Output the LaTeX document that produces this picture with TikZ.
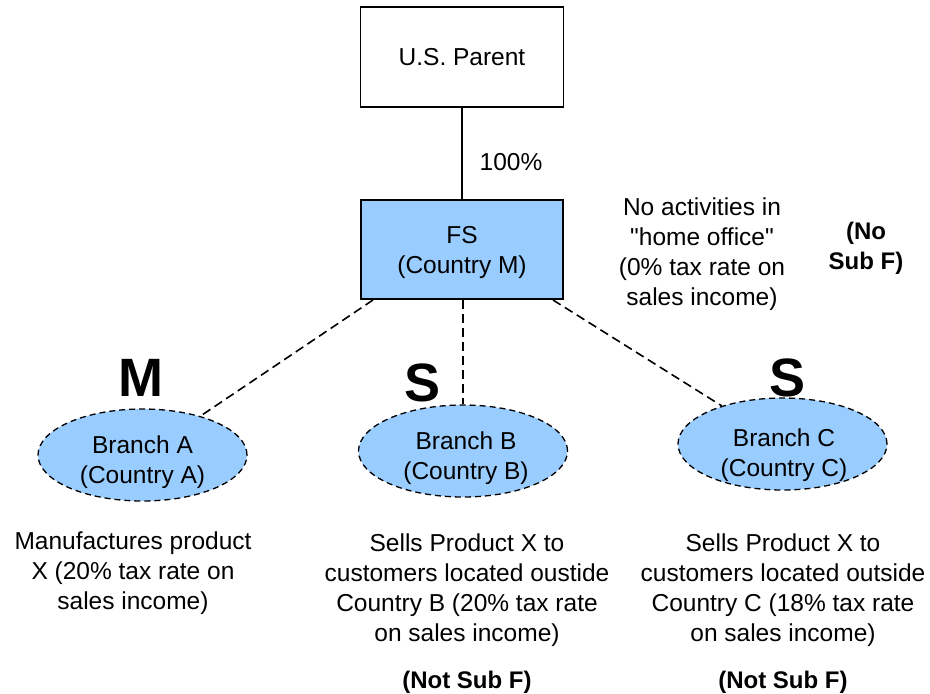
\documentclass[tikz,border=0pt]{standalone}
\usepackage{fontspec}
\setmainfont{Liberation Sans}[Ligatures=TeXOff]
\usetikzlibrary{shapes.geometric}
\definecolor{boxblue}{HTML}{99CCFF}
\begin{document}
\begin{tikzpicture}[x=1pt,y=-1pt,
  txt/.style={font=\fontsize{24.5}{30}\selectfont, align=center, inner sep=0pt},
  bigletter/.style={font=\fontsize{54}{54}\selectfont\bfseries, inner sep=0pt},
  boldtxt/.style={font=\fontsize{24}{30}\selectfont\bfseries, align=center, inner sep=0pt},
  parentbox/.style={draw=black, line width=1.2pt, fill=white, minimum width=203pt, minimum height=100pt, inner sep=0pt},
  fsbox/.style={draw=black, line width=1.2pt, fill=boxblue, minimum width=202pt, minimum height=99pt, inner sep=0pt},
  branch/.style={ellipse, draw=black, dash pattern=on 6pt off 4pt, line width=1.3pt, fill=boxblue, minimum width=209pt, minimum height=92pt, inner sep=0pt},
  dline/.style={draw=black, line width=1.6pt, dash pattern=on 9pt off 5pt}
]
\useasboundingbox (0,0) rectangle (930,694);

\node[parentbox] (parent) at (462,57) {};
\node[txt] (parenttxt) at (462,57) {U.S. Parent};

\node[fsbox] (fs) at (462,249.5) {};
\node[txt] (fstxt) at (462,252) {FS\\(Country M)};

\draw[line width=1.2pt] (parent.south) -- (fs.north);
\node[txt] (pct) at (511,162) {100\%};

\node[branch] (ba) at (142.5,455) {};
\node[txt] (batxt) at (142.5,462) {Branch A\\(Country A)};
\node[branch] (bb) at (463,451) {};
\node[txt] (bbtxt) at (466,458) {Branch B\\(Country B)};
\node[branch] (bc) at (782.5,444) {};
\node[txt] (bctxt) at (784,455) {Branch C\\(Country C)};

\coordinate (fsA) at (373,300);
\coordinate (fsB) at (463,300);
\coordinate (fsC) at (553,300);
\draw[dline] (fsA) -- (ba);
\draw[dline] (fsB) -- (bb.north);
\draw[dline] (fsC) -- (bc);

\node[bigletter] (M) at (141,378) {M};
\node[bigletter] (S1) at (423,383) {S};
\node[bigletter] (S2) at (788,378) {S};

\node[txt] (note) at (702,254) {No activities in\\"home office"\\(0\% tax rate on\\sales income)};
\node[boldtxt] (nosub) at (866,248) {(No\\Sub F)};

\node[txt] (da) at (133,573) {Manufactures product\\X (20\% tax rate on\\sales income)};
\node[txt] (db) at (467,590) {Sells Product X to\\customers located oustide\\Country B (20\% tax rate\\on sales income)};
\node[txt] (dc) at (783,590) {Sells Product X to\\customers located outside\\Country C (18\% tax rate\\on sales income)};

\node[boldtxt] (nsb) at (467,682) {(Not Sub F)};
\node[boldtxt] (nsc) at (783,682) {(Not Sub F)};
\end{tikzpicture}
\end{document}
